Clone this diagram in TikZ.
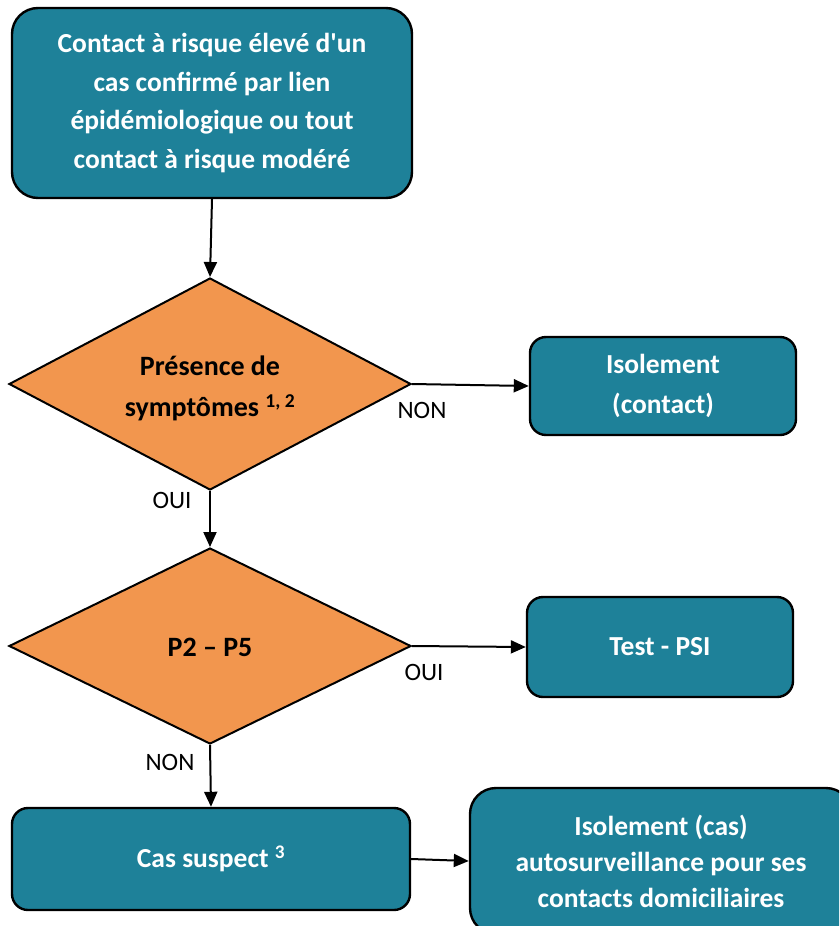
\documentclass[tikz,border=0pt]{standalone}
\usepackage{fontspec}
\setmainfont{Carlito}
\usetikzlibrary{shapes.geometric,arrows.meta}
\definecolor{tealbox}{RGB}{30,129,153}
\definecolor{orangedec}{RGB}{242,150,78}
\tikzset{
  stepbox/.style={draw=black, line width=2.4pt, fill=tealbox, rounded corners=#1,
    text=white, font=\bfseries\fontsize{27.5}{38.5}\selectfont, align=center, inner sep=0pt},
  stepbox/.default=16pt,
  decision/.style={diamond, draw=black, line width=2pt, fill=orangedec, inner sep=0pt},
  dectext/.style={text=black, font=\bfseries\fontsize{28}{41}\selectfont, align=center, inner sep=0pt},
  flow/.style={draw=black, line width=2pt, -{Triangle[length=15pt,width=13pt]}},
  answer/.style={font=\fontsize{25}{28}\selectfont, text=black, inner sep=0pt}
}
\begin{document}
\begin{tikzpicture}[x=1pt,y=-1pt]
  \path[use as bounding box, clip] (0,0) rectangle (839,926);
  \fill[white] (0,0) rectangle (839,926);

  % main column
  \node[stepbox=26pt, minimum width=400pt, minimum height=190pt] (contact) at (212,103)
    {Contact à risque élevé d\textquotesingle un\\cas confirmé par lien\\épidémiologique ou tout\\contact à risque modéré};
  \node[decision, minimum width=402pt, minimum height=212pt] (sympt) at (210,384) {};
  \node[dectext] (symptxt) at (210,388)
    {Présence de\\symptômes \textsuperscript{1, 2}};
  \node[decision, minimum width=402pt, minimum height=196pt] (prio) at (210,646) {};
  \node[dectext] (priotxt) at (210,647) {P2 – P5};
  \node[stepbox=16pt, minimum width=398pt, minimum height=102pt] (suspect) at (211,859)
    {Cas suspect \textsuperscript{3}};

  % right column
  \node[stepbox=16pt, minimum width=266pt, minimum height=98pt,
        font=\bfseries\fontsize{27.5}{40}\selectfont] (isocontact) at (663,386)
    {Isolement\\(contact)};
  \node[stepbox=16pt, minimum width=266pt, minimum height=100pt] (test) at (660,647)
    {Test - PSI};
  \node[stepbox=26pt, minimum width=382pt, minimum height=146pt,
        font=\bfseries\fontsize{27.5}{36}\selectfont] (isocas) at (661,861)
    {Isolement (cas)\\autosurveillance pour ses\\contacts domiciliaires};

  % connectors
  \draw[flow] (contact.south) -- (sympt.north);
  \draw[flow] (sympt.east) -- (isocontact.west);
  \draw[flow] (sympt.south) -- (prio.north);
  \draw[flow] (prio.east) -- (test.west);
  \draw[flow] (prio.south) -- (suspect.north);
  \draw[flow] (suspect.east) -- (isocas.west);

  % answer labels
  \node[answer] (l1) at (422,410) {NON};
  \node[answer] (l2) at (172,500) {OUI};
  \node[answer] (l3) at (424,672) {OUI};
  \node[answer] (l4) at (170,762) {NON};
\end{tikzpicture}
\end{document}
